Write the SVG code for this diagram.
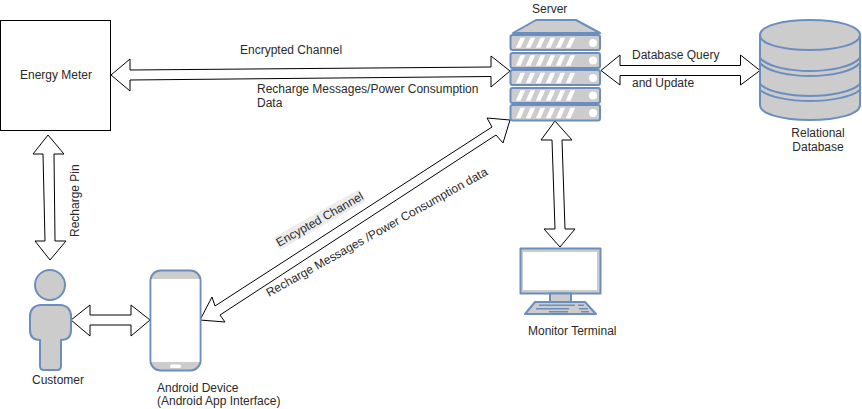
<svg xmlns="http://www.w3.org/2000/svg" width="862" height="409" viewBox="0 0 862 409">
<style>
text{font-family:"Liberation Sans",Arial,sans-serif;font-size:12px;fill:#2a2a2a}
.i{fill:#ccc;stroke:#6c8ebf;stroke-width:2;stroke-linejoin:round}
.w{fill:#fff;stroke:none}
.s{fill:#fff;stroke:#fff;stroke-width:1.500;stroke-linejoin:miter}
.b{fill:#6c8ebf;stroke:none}
.n{fill:none;stroke:#6c8ebf;stroke-width:2}
.a{fill:#fff;stroke:#000;stroke-width:1;stroke-linejoin:miter}
</style>
<rect width="862" height="409" fill="#fff"/>
<g id="connectors">
<path class="a" d="M111 75L130 59V70L491 67V56L510 71L491 87V76.500L130 80V91Z"/>
<path class="a" d="M601 70.500L620 55V65.500H740.500V55L760 70.500L740.500 85V75.500H620V85Z"/>
<path class="a" d="M48 135L64 154H54L55 241H66L50 260L35 241H45L43 154H33Z"/>
<path class="a" d="M71 320L90 305V315H131V305L150 320L131 336V325H90V336Z"/>
<path class="a" d="M200 320L212 297L215 306L492 127L487 118L510 120L503 143L496 135L220 315L225 322Z"/>
<path class="a" d="M555 121L572 140H562L565 229H575L560 247L544 229H555L552 140H541Z"/>
</g>
<g id="energy-meter">
<rect x="0.500" y="20.500" width="110" height="110" fill="#fff" stroke="#000" stroke-width="1"/>
<text x="20" y="79">Energy Meter</text>
</g>
<g id="server">
<path class="i" d="M513 33L536 20H576L600 33Z"/>
<g id="server-rows">
<rect class="i" x="510.500" y="35" width="89.500" height="15" rx="2"/>
<rect class="i" x="510.500" y="53" width="89.500" height="15" rx="2"/>
<rect class="i" x="510.500" y="70" width="89.500" height="15" rx="2"/>
<rect class="i" x="510.500" y="88" width="89.500" height="15" rx="2"/>
<rect class="i" x="510.500" y="105" width="89.500" height="15.500" rx="2"/>
</g>
<path class="s" d="M517 47L521 38.500H524L520 47ZM527 47L531 38.500H534L530 47ZM537 47L541 38.500H544L540 47ZM547 47L551 38.500H554L550 47ZM557 47L561 38.500H564L560 47ZM567 47L571 38.500H574L570 47Z"/>
<path class="s" d="M517 65L521 56H524L520 65ZM527 65L531 56H534L530 65ZM537 65L541 56H544L540 65ZM547 65L551 56H554L550 65ZM557 65L561 56H564L560 65ZM567 65L571 56H574L570 65Z"/>
<path class="s" d="M517 82.500L521 73.500H524L520 82.500ZM527 82.500L531 73.500H534L530 82.500ZM537 82.500L541 73.500H544L540 82.500ZM547 82.500L551 73.500H554L550 82.500ZM557 82.500L561 73.500H564L560 82.500ZM567 82.500L571 73.500H574L570 82.500Z"/>
<path class="s" d="M517 100L521 91H524L520 100ZM527 100L531 91H534L530 100ZM537 100L541 91H544L540 100ZM547 100L551 91H554L550 100ZM557 100L561 91H564L560 100ZM567 100L571 91H574L570 100Z"/>
<path class="s" d="M517 117.500L521 108.500H524L520 117.500ZM527 117.500L531 108.500H534L530 117.500ZM537 117.500L541 108.500H544L540 117.500ZM547 117.500L551 108.500H554L550 117.500ZM557 117.500L561 108.500H564L560 117.500ZM567 117.500L571 108.500H574L570 117.500Z"/>
<circle class="w" cx="593" cy="43" r="4"/><circle class="w" cx="593" cy="60.500" r="4"/><circle class="w" cx="593" cy="78" r="4"/><circle class="w" cx="593" cy="95.500" r="4"/><circle class="w" cx="593" cy="113" r="4"/>
<text x="532" y="13">Server</text>
</g>
<g id="database">
<path class="i" d="M760 35C760 26 782 20 810 20S860 26 860 35V105C860 114 838 120 810 120S760 114 760 105Z"/>
<path class="n" d="M760 35C760 44 782 50 810 50S860 44 860 35M760 58C768 67 790 71 810 71S852 67 860 58M760 63C768 72 790 76 810 76S852 72 860 63M760 84C768 92 790 96 810 96S852 92 860 84M760 90C768 97 790 101 810 101S852 97 860 90"/>
<text x="818" y="137" text-anchor="middle">Relational</text>
<text x="818" y="151" text-anchor="middle">Database</text>
</g>
<g id="customer">
<circle class="i" cx="50" cy="285" r="15"/>
<path class="i" d="M41 305H60C67 305 71 310 71 316V330C71 337 67 340 61 340V366Q61 370 57 370H44Q40 370 40 366V340C34 340 30 337 30 330V316C30 310 34 305 41 305Z"/>
<text x="32" y="384">Customer</text>
</g>
<g id="android-device">
<rect class="i" x="150.500" y="270.500" width="50" height="100" rx="10"/>
<rect class="w" x="151.500" y="279" width="48" height="83"/>
<rect class="w" x="170" y="364.500" width="11" height="3.500" rx="1.500"/>
<text x="157" y="392">Android Device</text>
<text x="157" y="405">(Android App Interface)</text>
</g>
<g id="monitor-terminal">
<rect class="i" x="520.500" y="248.500" width="80" height="45"/>
<rect class="w" x="523" y="252" width="74" height="38"/>
<rect class="i" x="550" y="293.500" width="21" height="8.500"/>
<path class="i" d="M535 302H585L596 314H525Z"/>
<path class="b" d="M539 304.500H575V306H539ZM578 304.500H584V306H578ZM536 308H569V309.500H536ZM579 308H588V309.500H579ZM549 311H568V312.500H549ZM581 311H589V312.500H581Z"/>
<text x="528" y="335">Monitor Terminal</text>
</g>
<g id="labels">
<text x="240" y="54">Encrypted Channel</text>
<text x="257" y="93">Recharge Messages/Power Consumption</text>
<text x="257" y="107">Data</text>
<text x="632" y="59">Database Query</text>
<text x="632" y="87">and Update</text>
<text transform="translate(79 237) rotate(-90)">Recharge Pin</text>
<g transform="translate(279 247) rotate(-29.500)">
<rect x="0" y="-11" width="98" height="14" fill="#ececec"/>
<text>Encypted Channel</text>
</g>
<text transform="translate(269 297) rotate(-29.200)">Recharge Messages /Power Consumption data</text>
</g>
</svg>
